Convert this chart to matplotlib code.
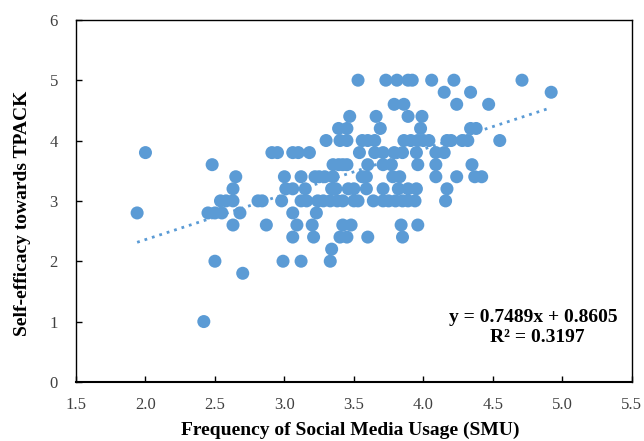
import matplotlib
matplotlib.use("Agg")
import matplotlib.pyplot as plt
import numpy as np

# Data: (SMU, self-efficacy) grouped by y level
rows = {
    5.0: [3.53, 3.73, 3.81, 3.89, 3.92, 4.06, 4.22, 4.71],
    4.8: [4.15, 4.34, 4.92],
    4.6: [3.79, 3.86, 4.24, 4.47],
    4.4: [3.47, 3.66, 3.89, 3.99],
    4.2: [3.39, 3.45, 3.69, 3.98, 4.34, 4.38],
    4.0: [3.30, 3.40, 3.45, 3.56, 3.60, 3.65, 3.86, 3.91, 3.96, 4.00, 4.04, 4.17, 4.20, 4.28, 4.32, 4.55],
    3.8: [2.00, 2.91, 2.95, 3.06, 3.10, 3.18, 3.54, 3.65, 3.71, 3.79, 3.85, 3.95, 4.09, 4.15],
    3.6: [2.48, 3.35, 3.39, 3.42, 3.45, 3.60, 3.71, 3.77, 3.96, 4.09, 4.35],
    3.4: [2.65, 3.00, 3.12, 3.22, 3.25, 3.29, 3.35, 3.56, 3.59, 3.78, 3.83, 4.09, 4.24, 4.37, 4.42],
    3.2: [2.63, 3.01, 3.06, 3.15, 3.34, 3.37, 3.46, 3.50, 3.59, 3.71, 3.82, 3.89, 3.95, 4.17],
    3.0: [2.54, 2.58, 2.63, 2.81, 2.84, 2.98, 3.12, 3.16, 3.24, 3.28, 3.33, 3.38, 3.42, 3.50, 3.53,
          3.64, 3.71, 3.75, 3.80, 3.85, 3.89, 3.94, 4.16],
    2.8: [1.94, 2.45, 2.50, 2.55, 2.68, 3.06, 3.23],
    2.6: [2.63, 2.87, 3.09, 3.20, 3.42, 3.48, 3.84, 3.96],
    2.4: [3.06, 3.21, 3.40, 3.45, 3.60, 3.85],
    2.2: [3.34],
    2.0: [2.50, 2.99, 3.12, 3.33],
    1.8: [2.70],
    1.0: [2.42],
}
smu = [x for y, xs in rows.items() for x in xs]
tpack = [y for y, xs in rows.items() for x in xs]

slope = 0.7489
intercept = 0.8605
r2 = 0.3197

x_ticks = [1.5, 2.0, 2.5, 3.0, 3.5, 4.0, 4.5, 5.0, 5.5]
y_ticks = [0, 1, 2, 3, 4, 5, 6]

plt.rcParams['font.family'] = ['Liberation Serif', 'DejaVu Serif']

fig = plt.figure(figsize=(6.44, 4.41), dpi=100)
ax = fig.add_axes([0.118, 0.134, 0.863, 0.821])

color = '#5B9BD5'
ax.scatter(smu, tpack, s=88, color=color, edgecolors='none', zorder=3)

xs = np.array([min(smu), max(smu)])
ax.plot(xs, slope * xs + intercept, color=color, linestyle=(0, (1, 1.8)),
        linewidth=2.0, zorder=2)

ax.set_xlim(1.5, 5.5)
ax.set_ylim(0, 6)
ax.set_xticks(x_ticks)
ax.set_xticklabels([f"{v:.1f}" for v in x_ticks])
ax.set_yticks(y_ticks)
ax.set_yticklabels([str(v) for v in y_ticks])
ax.tick_params(axis='both', direction='in', length=4, width=1, labelsize=12,
               colors='black', labelcolor='#404040')
ax.tick_params(axis='x', pad=11)
ax.tick_params(axis='y', pad=13)
for sp in ax.spines.values():
    sp.set_color('black')
    sp.set_linewidth(1.0)
ax.spines['bottom'].set_linewidth(1.5)

ax.set_xlabel('Frequency of Social Media Usage (SMU)', fontsize=14, fontweight='bold')
ax.set_ylabel('Self-efficacy towards TPACK', fontsize=14, fontweight='bold')
ax.xaxis.set_label_coords(0.493, -0.133)
ax.yaxis.set_label_coords(-0.097, 0.467)
ax.xaxis.label.set_va('center')
ax.yaxis.label.set_va('center')

ax.text(4.79, 1.06, f'y = {slope}x + {intercept}', ha='center', va='center',
        fontsize=14, fontweight='bold')
ax.text(4.82, 0.73, f'R² = {r2}', ha='center', va='center',
        fontsize=14, fontweight='bold')

fig.savefig('out.png', dpi=100)
